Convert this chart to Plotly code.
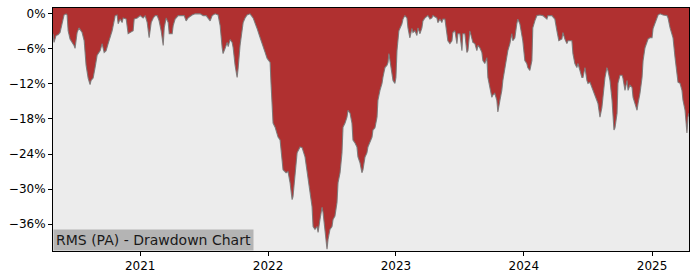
import pandas as pd
import plotly.graph_objects as go

# Dates as decimal years, drawdown values in percent
years = [2020.320, 2020.328, 2020.344, 2020.359, 2020.375, 2020.391, 2020.406, 2020.422, 2020.430, 2020.438,
         2020.453, 2020.469, 2020.484, 2020.492, 2020.500, 2020.508, 2020.523, 2020.547, 2020.563, 2020.578,
         2020.594, 2020.609, 2020.617, 2020.633, 2020.648, 2020.664, 2020.688, 2020.703, 2020.719, 2020.734,
         2020.750, 2020.766, 2020.781, 2020.797, 2020.805, 2020.820, 2020.828, 2020.844, 2020.859, 2020.867,
         2020.891, 2020.906, 2020.922, 2020.945, 2020.953, 2020.977, 2021.000, 2021.023, 2021.039, 2021.055,
         2021.070, 2021.086, 2021.102, 2021.117, 2021.133, 2021.148, 2021.164, 2021.180, 2021.188, 2021.203,
         2021.219, 2021.227, 2021.250, 2021.258, 2021.273, 2021.297, 2021.328, 2021.344, 2021.359, 2021.375,
         2021.406, 2021.430, 2021.469, 2021.492, 2021.516, 2021.531, 2021.547, 2021.563, 2021.586, 2021.609,
         2021.625, 2021.641, 2021.648, 2021.664, 2021.680, 2021.688, 2021.703, 2021.719, 2021.727, 2021.742,
         2021.758, 2021.766, 2021.781, 2021.805, 2021.820, 2021.836, 2021.859, 2021.883, 2021.898, 2021.914,
         2021.938, 2021.961, 2021.977, 2021.992, 2022.008, 2022.016, 2022.023, 2022.039, 2022.055, 2022.078,
         2022.094, 2022.109, 2022.117, 2022.141, 2022.156, 2022.172, 2022.188, 2022.195, 2022.211, 2022.227,
         2022.250, 2022.266, 2022.289, 2022.313, 2022.328, 2022.344, 2022.352, 2022.367, 2022.383, 2022.391,
         2022.406, 2022.422, 2022.430, 2022.445, 2022.461, 2022.469, 2022.484, 2022.500, 2022.508, 2022.523,
         2022.539, 2022.547, 2022.563, 2022.578, 2022.586, 2022.602, 2022.617, 2022.625, 2022.641, 2022.656,
         2022.664, 2022.680, 2022.695, 2022.703, 2022.719, 2022.734, 2022.742, 2022.758, 2022.773, 2022.781,
         2022.797, 2022.813, 2022.820, 2022.836, 2022.852, 2022.859, 2022.875, 2022.891, 2022.898, 2022.914,
         2022.930, 2022.938, 2022.945, 2022.961, 2022.977, 2022.992, 2023.000, 2023.008, 2023.023, 2023.047,
         2023.055, 2023.070, 2023.086, 2023.094, 2023.109, 2023.125, 2023.133, 2023.148, 2023.164, 2023.172,
         2023.188, 2023.203, 2023.211, 2023.227, 2023.250, 2023.266, 2023.281, 2023.289, 2023.320, 2023.328,
         2023.344, 2023.359, 2023.367, 2023.383, 2023.398, 2023.406, 2023.422, 2023.438, 2023.445, 2023.461,
         2023.477, 2023.484, 2023.500, 2023.516, 2023.523, 2023.539, 2023.555, 2023.563, 2023.578, 2023.594,
         2023.602, 2023.617, 2023.633, 2023.641, 2023.656, 2023.672, 2023.680, 2023.695, 2023.711, 2023.719,
         2023.734, 2023.750, 2023.758, 2023.773, 2023.789, 2023.797, 2023.813, 2023.828, 2023.836, 2023.852,
         2023.867, 2023.875, 2023.891, 2023.906, 2023.914, 2023.930, 2023.945, 2023.953, 2023.969, 2023.984,
         2023.992, 2024.008, 2024.023, 2024.031, 2024.047, 2024.063, 2024.070, 2024.086, 2024.102, 2024.125,
         2024.148, 2024.180, 2024.188, 2024.219, 2024.242, 2024.258, 2024.273, 2024.297, 2024.305, 2024.320,
         2024.336, 2024.344, 2024.375, 2024.383, 2024.398, 2024.414, 2024.422, 2024.438, 2024.453, 2024.461,
         2024.477, 2024.492, 2024.500, 2024.516, 2024.531, 2024.539, 2024.555, 2024.570, 2024.578, 2024.594,
         2024.609, 2024.617, 2024.633, 2024.648, 2024.656, 2024.672, 2024.688, 2024.703, 2024.711, 2024.727,
         2024.734, 2024.750, 2024.766, 2024.773, 2024.789, 2024.805, 2024.813, 2024.828, 2024.844, 2024.852,
         2024.867, 2024.883, 2024.891, 2024.906, 2024.922, 2024.930, 2024.945, 2024.961, 2024.969, 2024.984,
         2025.000, 2025.008, 2025.023, 2025.039, 2025.047, 2025.063, 2025.086, 2025.117, 2025.125, 2025.141,
         2025.156, 2025.164, 2025.180, 2025.195, 2025.203, 2025.219, 2025.234, 2025.242, 2025.258, 2025.273,
         2025.281, 2025.289]

drawdown_pct = [-3.4, -4.9, -3.7, -3.6, -3.2, -1.5, -0.2, 0.0, -0.2, -2.9,
                -4.3, -4.9, -5.4, -5.9, -4.6, -3.2, -2.4, -3.2, -4.6, -8.8,
                -11.0, -12.1, -11.4, -11.0, -9.2, -7.1, -6.3, -5.1, -6.6, -6.3,
                -5.1, -3.9, -2.9, -1.2, -0.3, -0.2, -1.7, -0.9, -1.5, -0.7,
                -0.9, -3.4, -3.2, -2.9, -0.9, -0.7, -0.3, -0.7, -0.3, -1.5,
                -4.1, -1.5, -0.7, -0.3, -0.3, -1.2, -2.9, -5.4, -2.4, -0.7,
                -1.5, -3.4, -3.4, -2.0, -0.9, -0.3, -0.3, -0.3, -1.2, -0.7,
                -0.2, 0.0, 0.0, -0.3, -0.3, -0.7, -1.2, -0.3, 0.0, -0.2,
                -2.0, -5.8, -6.8, -5.9, -4.9, -5.6, -4.4, -4.9, -5.8, -8.8,
                -10.9, -9.3, -5.4, -1.5, -0.7, -0.2, 0.0, -0.7, -1.5, -2.5,
                -4.1, -5.8, -6.6, -7.6, -8.0, -8.3, -11.9, -18.7, -19.4, -21.1,
                -21.6, -24.9, -26.7, -27.2, -27.0, -28.9, -31.8, -31.3, -27.2, -23.8,
                -22.8, -22.9, -24.5, -27.9, -30.1, -33.0, -36.4, -36.9, -36.4, -37.4,
                -35.2, -33.1, -34.0, -37.4, -40.3, -38.6, -36.9, -36.4, -35.2, -34.6,
                -32.3, -28.9, -27.2, -23.8, -19.4, -18.7, -17.7, -16.5, -17.0, -18.7,
                -21.6, -22.1, -22.8, -24.5, -25.5, -27.2, -26.7, -24.5, -23.8, -22.8,
                -21.9, -21.1, -19.9, -19.5, -17.7, -14.8, -13.1, -11.9, -10.9, -9.2,
                -8.8, -8.3, -6.8, -8.8, -11.4, -11.9, -10.9, -6.3, -2.9, -1.7,
                -0.9, -0.3, -0.7, -2.4, -4.1, -2.5, -3.2, -2.9, -3.7, -2.4,
                -3.4, -2.4, -1.2, -0.7, -0.3, -0.9, -0.7, -0.3, -0.7, -1.5,
                -0.9, -1.5, -0.9, -0.9, -4.1, -4.6, -5.1, -4.6, -3.2, -2.9,
                -5.1, -3.4, -3.4, -6.3, -3.4, -3.4, -6.6, -6.3, -2.9, -4.1,
                -4.9, -5.1, -6.3, -5.4, -5.8, -6.6, -8.0, -8.5, -7.5, -10.9,
                -12.6, -14.3, -13.9, -13.6, -14.8, -16.8, -14.8, -13.1, -11.4, -9.2,
                -7.5, -6.3, -5.1, -3.4, -4.6, -4.1, -1.7, -0.9, -1.7, -3.4,
                -4.6, -8.0, -8.5, -9.2, -9.7, -8.0, -2.4, -1.2, -0.3, -0.2,
                -0.3, -0.9, -0.3, -0.3, -0.9, -2.9, -4.6, -4.3, -3.2, -4.3,
                -5.1, -4.6, -4.6, -6.8, -8.5, -9.2, -8.5, -9.7, -10.9, -10.9,
                -9.2, -11.4, -11.9, -11.7, -12.6, -13.1, -13.9, -14.8, -15.3, -17.7,
                -16.0, -14.3, -10.9, -9.2, -9.7, -11.4, -14.8, -19.9, -19.5, -17.0,
                -11.9, -10.5, -10.5, -11.0, -13.1, -11.4, -13.1, -12.2, -12.6, -14.3,
                -15.3, -16.5, -15.3, -13.6, -10.9, -8.0, -5.8, -4.6, -4.3, -4.1,
                -4.1, -2.5, -1.7, -0.7, -0.2, 0.0, -0.2, -0.3, -0.7, -2.4,
                -3.4, -4.1, -7.5, -10.2, -11.7, -11.9, -13.1, -14.8, -16.5, -20.4,
                -17.7, -17.0]

y_ticks = [0, -6, -12, -18, -24, -30, -36]
y_tick_labels = ["0%", "\u22126%", "\u221212%", "\u221218%", "\u221224%", "\u221230%", "\u221236%"]
x_tick_years = [2021, 2022, 2023, 2024, 2025]
label_text = "RMS (PA) - Drawdown Chart"

y_top = 1.0
y_bottom = -40.6


def to_date(t):
    base = pd.Timestamp(int(t), 1, 1)
    nxt = pd.Timestamp(int(t) + 1, 1, 1)
    return base + (nxt - base) * (t - int(t))


dates = [to_date(t) for t in years]
x_tick_vals = [pd.Timestamp(y, 1, 1) for y in x_tick_years]

fig = go.Figure()
fig.add_trace(go.Scatter(x=dates, y=[y_top] * len(dates), mode="lines",
                         line=dict(width=0, color="rgba(0,0,0,0)"), hoverinfo="skip",
                         showlegend=False))
fig.add_trace(go.Scatter(x=dates, y=drawdown_pct, mode="lines",
                         line=dict(color="rgba(120,120,120,0.9)", width=1.1),
                         fill="tonexty", fillcolor="#B03030", showlegend=False))

fig.update_layout(
    width=700, height=280,
    margin=dict(l=53, r=11, t=7, b=28),
    paper_bgcolor="white",
    plot_bgcolor="#ECECEC",
    font=dict(family="DejaVu Sans", size=12, color="black"),
    showlegend=False,
    xaxis=dict(range=[to_date(years[0]), to_date(years[-1])], tickvals=x_tick_vals,
               ticktext=[str(y) for y in x_tick_years], showgrid=False, zeroline=False,
               showline=True, linecolor="black", linewidth=1, mirror=True,
               ticks="outside", ticklen=4, tickcolor="black", tickfont=dict(size=12)),
    yaxis=dict(range=[y_bottom, y_top], tickvals=y_ticks, ticktext=y_tick_labels,
               showgrid=False, zeroline=False, showline=True, linecolor="black",
               linewidth=1, mirror=True, ticks="outside", ticklen=4, tickcolor="black",
               tickfont=dict(size=12)),
    annotations=[dict(text=label_text, xref="paper", yref="paper", x=0, y=0,
                      xanchor="left", yanchor="bottom", showarrow=False,
                      bgcolor="#B4B4B4", borderpad=2,
                      font=dict(family="DejaVu Sans", size=14, color="#1a1a1a"))],
)

fig.write_html("out.html")
